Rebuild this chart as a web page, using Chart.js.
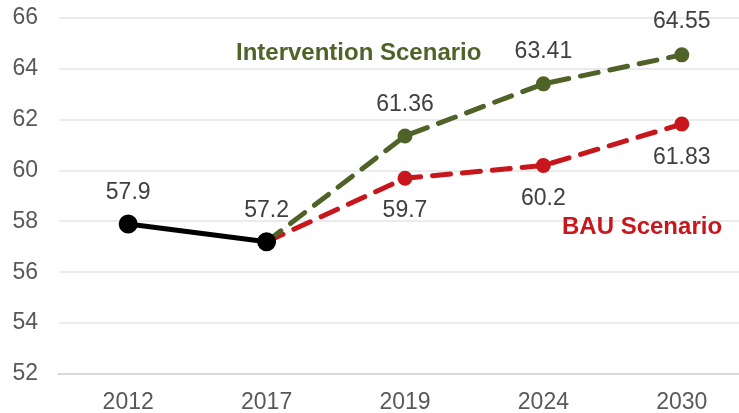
<!DOCTYPE html>
<html>
<head>
<meta charset="utf-8">
<script src="https://cdn.jsdelivr.net/npm/chart.js@4/dist/chart.umd.min.js"></script>
<style>
  html, body { margin: 0; padding: 0; background: #fff; overflow: hidden; }
  canvas { display: block; }
</style>
</head>
<body>
<canvas id="c" width="763" height="413"></canvas>
<script>
const years = ["2012", "2017", "2019", "2024", "2030"];
const historical = [57.9, 57.2, null, null, null];
const intervention = [null, 57.2, 61.36, 63.41, 64.55];
const bau = [null, 57.2, 59.7, 60.2, 61.83];
const yTicks = [52, 54, 56, 58, 60, 62, 64, 66];

const GREEN = "#4f6228";
const RED = "#c8161d";
const FONT = "Arial, 'Liberation Sans', sans-serif";

// value labels: [datasetIndex, pointIndex, text, dy]
const valueLabels = [
  [0, 0, "57.9", -31],
  [0, 1, "57.2", -31],
  [1, 2, "61.36", -31],
  [1, 3, "63.41", -32],
  [1, 4, "64.55", -33],
  [2, 2, "59.7", 32],
  [2, 3, "60.2", 33],
  [2, 4, "61.83", 34]
];

const labelPlugin = {
  id: "labels",
  afterDatasetsDraw(chart) {
    const ctx = chart.ctx;
    ctx.save();
    ctx.font = "23px " + FONT;
    ctx.fillStyle = "#404040";
    ctx.textAlign = "center";
    ctx.textBaseline = "middle";
    valueLabels.forEach(([ds, i, txt, dy]) => {
      const pt = chart.getDatasetMeta(ds).data[i];
      ctx.fillText(txt, pt.x, pt.y + dy);
    });
    // series names
    ctx.font = "bold 24px " + FONT;
    ctx.textAlign = "left";
    ctx.fillStyle = GREEN;
    ctx.fillText("Intervention Scenario", 236, 53);
    ctx.fillStyle = RED;
    ctx.fillText("BAU Scenario", 562, 227);
    ctx.restore();
  }
};

new Chart(document.getElementById("c"), {
  type: "line",
  data: {
    labels: years,
    datasets: [
      {
        data: historical,
        borderColor: "#000",
        backgroundColor: "#000",
        borderWidth: 5,
        pointRadius: 7,
        pointHoverRadius: 7,
        order: 0
      },
      {
        data: intervention,
        borderColor: GREEN,
        backgroundColor: GREEN,
        borderWidth: 5,
        borderDash: [18, 12],
        borderCapStyle: "round",
        pointRadius: [0, 5, 5, 5, 5],
        order: 1
      },
      {
        data: bau,
        borderColor: RED,
        backgroundColor: RED,
        borderWidth: 5,
        borderDash: [18, 12],
        borderCapStyle: "round",
        pointRadius: [0, 5, 5, 5, 5],
        order: 2
      }
    ]
  },
  options: {
    responsive: false,
    animation: false,
    layout: { padding: { top: 18, left: 0, right: 0, bottom: 0 } },
    plugins: { legend: { display: false }, tooltip: { enabled: false } },
    scales: {
      x: {
        offset: true,
        grid: { display: false },
        border: { color: "#d9d9d9", width: 2 },
        ticks: { color: "#595959", font: { size: 23, family: FONT }, padding: 7 },
        afterFit: axis => { axis.height = 39; axis.paddingLeft = 0; axis.paddingRight = 0; }
      },
      y: {
        min: 52,
        max: 66,
        afterBuildTicks: axis => { axis.ticks = yTicks.map(v => ({ value: v })); },
        grid: { color: "#ebebeb", lineWidth: 2, drawTicks: false },
        border: { display: false },
        ticks: { color: "#595959", font: { size: 23, family: FONT }, padding: 21 },
        afterFit: axis => { axis.width = 59; axis.paddingTop = 0; axis.paddingBottom = 0; }
      }
    }
  },
  plugins: [labelPlugin]
});
</script>
</body>
</html>
